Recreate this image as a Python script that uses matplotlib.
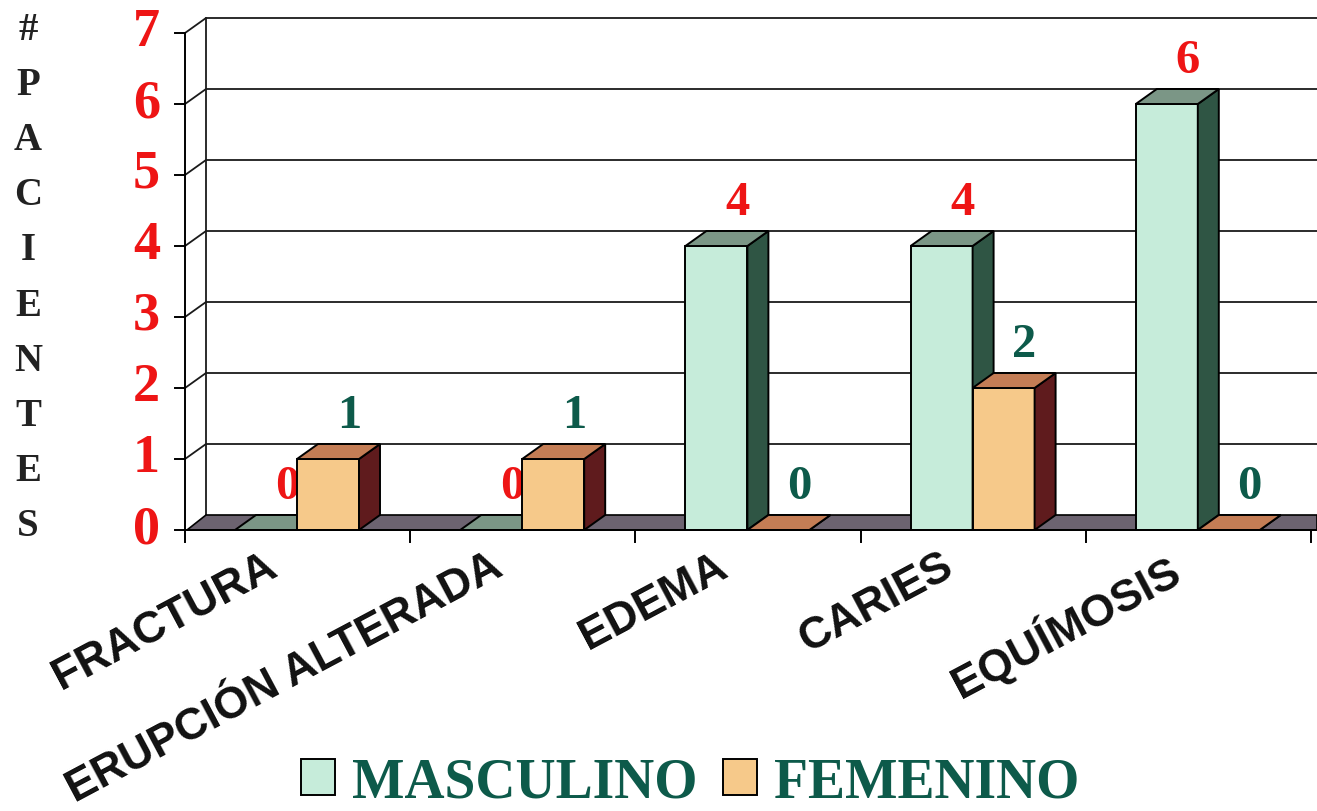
import matplotlib.pyplot as plt
from matplotlib.patches import Polygon

# Datos
categorias = ['FRACTURA', 'ERUPCIÓN ALTERADA', 'EDEMA', 'CARIES', 'EQUÍMOSIS']
masculino = [0, 0, 4, 4, 6]
femenino = [1, 1, 0, 2, 0]
niveles = [0, 1, 2, 3, 4, 5, 6, 7]
titulo_y = '#PACIENTES'

ROJO = '#ee1515'
VERDE = '#0d5a4a'
SERIF = 'Liberation Serif'
SANS = 'Liberation Sans'

# colores: frente, lado, techo
col_m = ('#c6ecda', '#2f5544', '#7b9686')
col_f = ('#f6c98a', '#5f1b1d', '#c47d55')
PISO = '#6c6370'

W, H = 1317, 811
fig = plt.figure(figsize=(W / 100, H / 100), dpi=100)
ax = fig.add_axes([0, 0, 1, 1])

# escala en pixeles del plano frontal
X0, XU = 185, 225.2
Y0, YU = 530, 71.0
xmax = (W - X0) / XU
ax.set_xlim(-X0 / XU, xmax)
ax.set_ylim((Y0 - H) / YU, Y0 / YU)
ax.axis('off')

# profundidad del efecto 3D
DX = 21 / XU
DY = 15 / YU

# piso
ax.add_patch(Polygon([(0.01, 0), (xmax, 0), (xmax, DY), (DX, DY)],
                     closed=True, facecolor=PISO, edgecolor='black', lw=1.2, zorder=1))

# lineas de la cuadricula en la pared del fondo
for v in niveles[1:]:
    ax.plot([0, DX, xmax], [v, v + DY, v + DY], color='#1a1a1a', lw=1.3, zorder=0.5)
ax.plot([DX, DX], [DY, niveles[-1] + DY], color='#1a1a1a', lw=1.3, zorder=0.5)

# eje vertical y sus marcas
ax.plot([0, 0], [0, niveles[-1]], color='black', lw=1.4, zorder=2)
for v in niveles:
    ax.plot([-10 / XU, 0], [v, v], color='black', lw=1.4, zorder=2)
    ax.text(-25 / XU, v, str(v), color=ROJO, fontsize=39, fontweight='bold',
            family=SERIF, ha='right', va='center')

# eje horizontal
ax.plot([0, xmax], [0, 0], color='black', lw=1.4, zorder=6)
for i in range(len(categorias) + 1):
    ax.plot([i, i], [0, -12 / YU], color='black', lw=1.4, zorder=6)

# titulo vertical
for k, letra in enumerate(titulo_y):
    ax.text(28 / XU - X0 / XU, (Y0 - 30 - 55.2 * k) / YU, letra, color='#222222',
            fontsize=28, fontweight='bold', family=SERIF, ha='center', va='center')

# barras con efecto 3D
bw = 62 / XU
series = [(masculino, 50 / XU, col_m, ROJO, 'MASCULINO'),
          (femenino, 112 / XU, col_f, VERDE, 'FEMENINO')]
handles = {}
z = 3
for i in range(len(categorias)):
    for vals, off, cols, ctxt, nombre in series:
        v = vals[i]
        x = i + off
        b = ax.bar(x, v, width=bw, align='edge', color=cols[0], edgecolor='black',
                   lw=1.4, zorder=z, label=nombre)
        handles[nombre] = b
        ax.add_patch(Polygon([(x + bw, 0), (x + bw + DX, DY), (x + bw + DX, v + DY), (x + bw, v)],
                             closed=True, facecolor=cols[1], edgecolor='black', lw=1.4, zorder=z))
        ax.add_patch(Polygon([(x, v), (x + DX, v + DY), (x + bw + DX, v + DY), (x + bw, v)],
                             closed=True, facecolor=cols[2], edgecolor='black', lw=1.4, zorder=z))
        ax.text(x + bw / 2 + DX, v + DY + 28 / YU, str(v), color=ctxt, fontsize=35,
                fontweight='bold', family=SERIF, ha='center', va='center', zorder=z)
        z += 0.01

# etiquetas de categoria
for i, cat in enumerate(categorias):
    ax.text(i + 0.5 - 33 / XU, -16 / YU, cat, rotation=28, rotation_mode='anchor',
            ha='right', va='top', fontsize=32, fontweight='bold', family=SANS, color='#111111')

# leyenda
leg = fig.legend([handles['MASCULINO'], handles['FEMENINO']], ['MASCULINO', 'FEMENINO'],
                 loc='center', bbox_to_anchor=(690 / W, 1 - 783 / H), ncol=2, frameon=False,
                 prop={'family': SERIF, 'weight': 'bold', 'size': 40},
                 handlelength=0.62, handleheight=0.62, handletextpad=0.3,
                 columnspacing=0.45, labelcolor=VERDE)

fig.savefig('out.png', dpi=100)
